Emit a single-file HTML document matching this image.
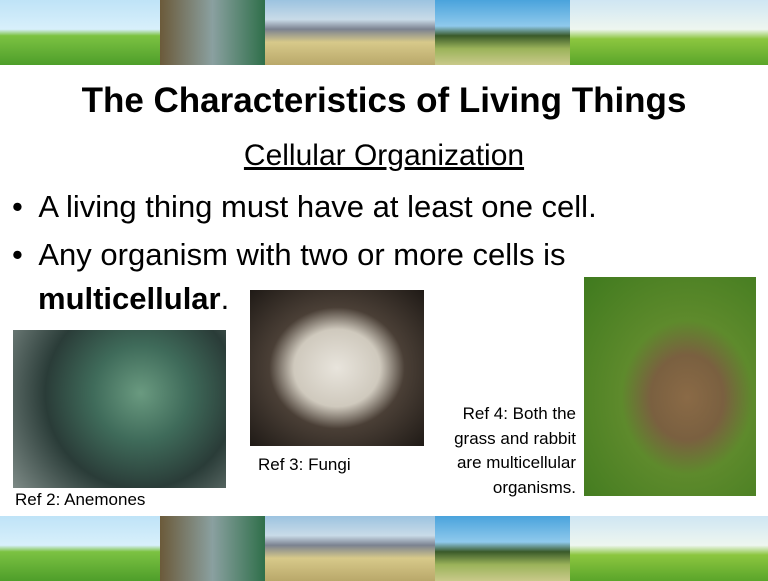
<!DOCTYPE html>
<html><head><meta charset="utf-8"><style>
*{margin:0;padding:0;box-sizing:border-box}
body{width:768px;height:581px;background:#fff;position:relative;overflow:hidden;font-family:"Liberation Sans","DejaVu Sans",sans-serif;color:#000}
.banner{position:absolute;left:0;width:768px;height:65px;display:flex}
.p{height:100%;position:relative;overflow:hidden}
.p1{width:160px;background:linear-gradient(#bfe3f7 0,#d8f0fb 45%,#7cc242 55%,#4e9e2a 100%)}
.p2{width:105px;background:linear-gradient(90deg,#6b5a3a,#8aa0a0 50%,#2f6f4a)}
.p3{width:170px;background:linear-gradient(#9cc3e0 0,#c9dbe8 30%,#7b8290 45%,#d7c98a 65%,#b9a86a 100%)}
.p4{width:135px;background:linear-gradient(#4aa3dc 0,#8fc9ec 40%,#3a5a2a 55%,#9bb35a 75%,#c9c98a 100%)}
.p5{width:198px;background:linear-gradient(#cfe6f3 0,#eef6f0 45%,#8cc63f 60%,#5aa52a 100%)}
.t{position:absolute;white-space:nowrap}
.img{position:absolute}
</style></head><body>
<div class="banner" style="top:0">
<div class="p p1"></div>
<div class="p p2"></div>
<div class="p p3"></div>
<div class="p p4"></div>
<div class="p p5"></div>
</div>
<div class="t" style="left:0;width:768px;text-align:center;top:81px;font-size:35px;font-weight:bold">The Characteristics of Living Things</div>
<div class="t" style="left:0;width:768px;text-align:center;top:139px;font-size:30px;text-decoration:underline">Cellular Organization</div>
<div class="t" style="left:12px;top:189px;font-size:31px">•&nbsp; A living thing must have at least one cell.</div>
<div class="t" style="left:12px;top:237px;font-size:31px">•&nbsp; Any organism with two or more cells is</div>
<div class="t" style="left:38px;top:281px;font-size:31px"><b>multicellular</b>.</div>
<div class="img" style="left:13px;top:330px;width:213px;height:158px;background:radial-gradient(circle at 60% 40%,#6a9a80 0,#3f6b5a 30%,#2a3c38 60%,#7d8a86 100%)"></div>
<div class="img" style="left:250px;top:290px;width:174px;height:156px;background:radial-gradient(ellipse at 50% 50%,#e8e4dc 0,#cfc9bd 35%,#4a3f36 55%,#1f1a16 100%)"></div>
<div class="img" style="left:584px;top:277px;width:172px;height:219px;background:radial-gradient(ellipse at 60% 55%,#8a6a46 0,#7a6040 25%,#5e8a2c 45%,#3f7a1e 100%)"></div>
<div class="t" style="left:15px;top:490px;font-size:17px">Ref 2: Anemones</div>
<div class="t" style="left:258px;top:455px;font-size:17px">Ref 3: Fungi</div>
<div class="t" style="right:192px;top:402px;font-size:17px;text-align:right;line-height:24.5px">Ref 4: Both the<br>grass and rabbit<br>are multicellular<br>organisms.</div>
<div class="banner" style="top:516px">
<div class="p p1"></div>
<div class="p p2"></div>
<div class="p p3"></div>
<div class="p p4"></div>
<div class="p p5"></div>
</div>
</body></html>
